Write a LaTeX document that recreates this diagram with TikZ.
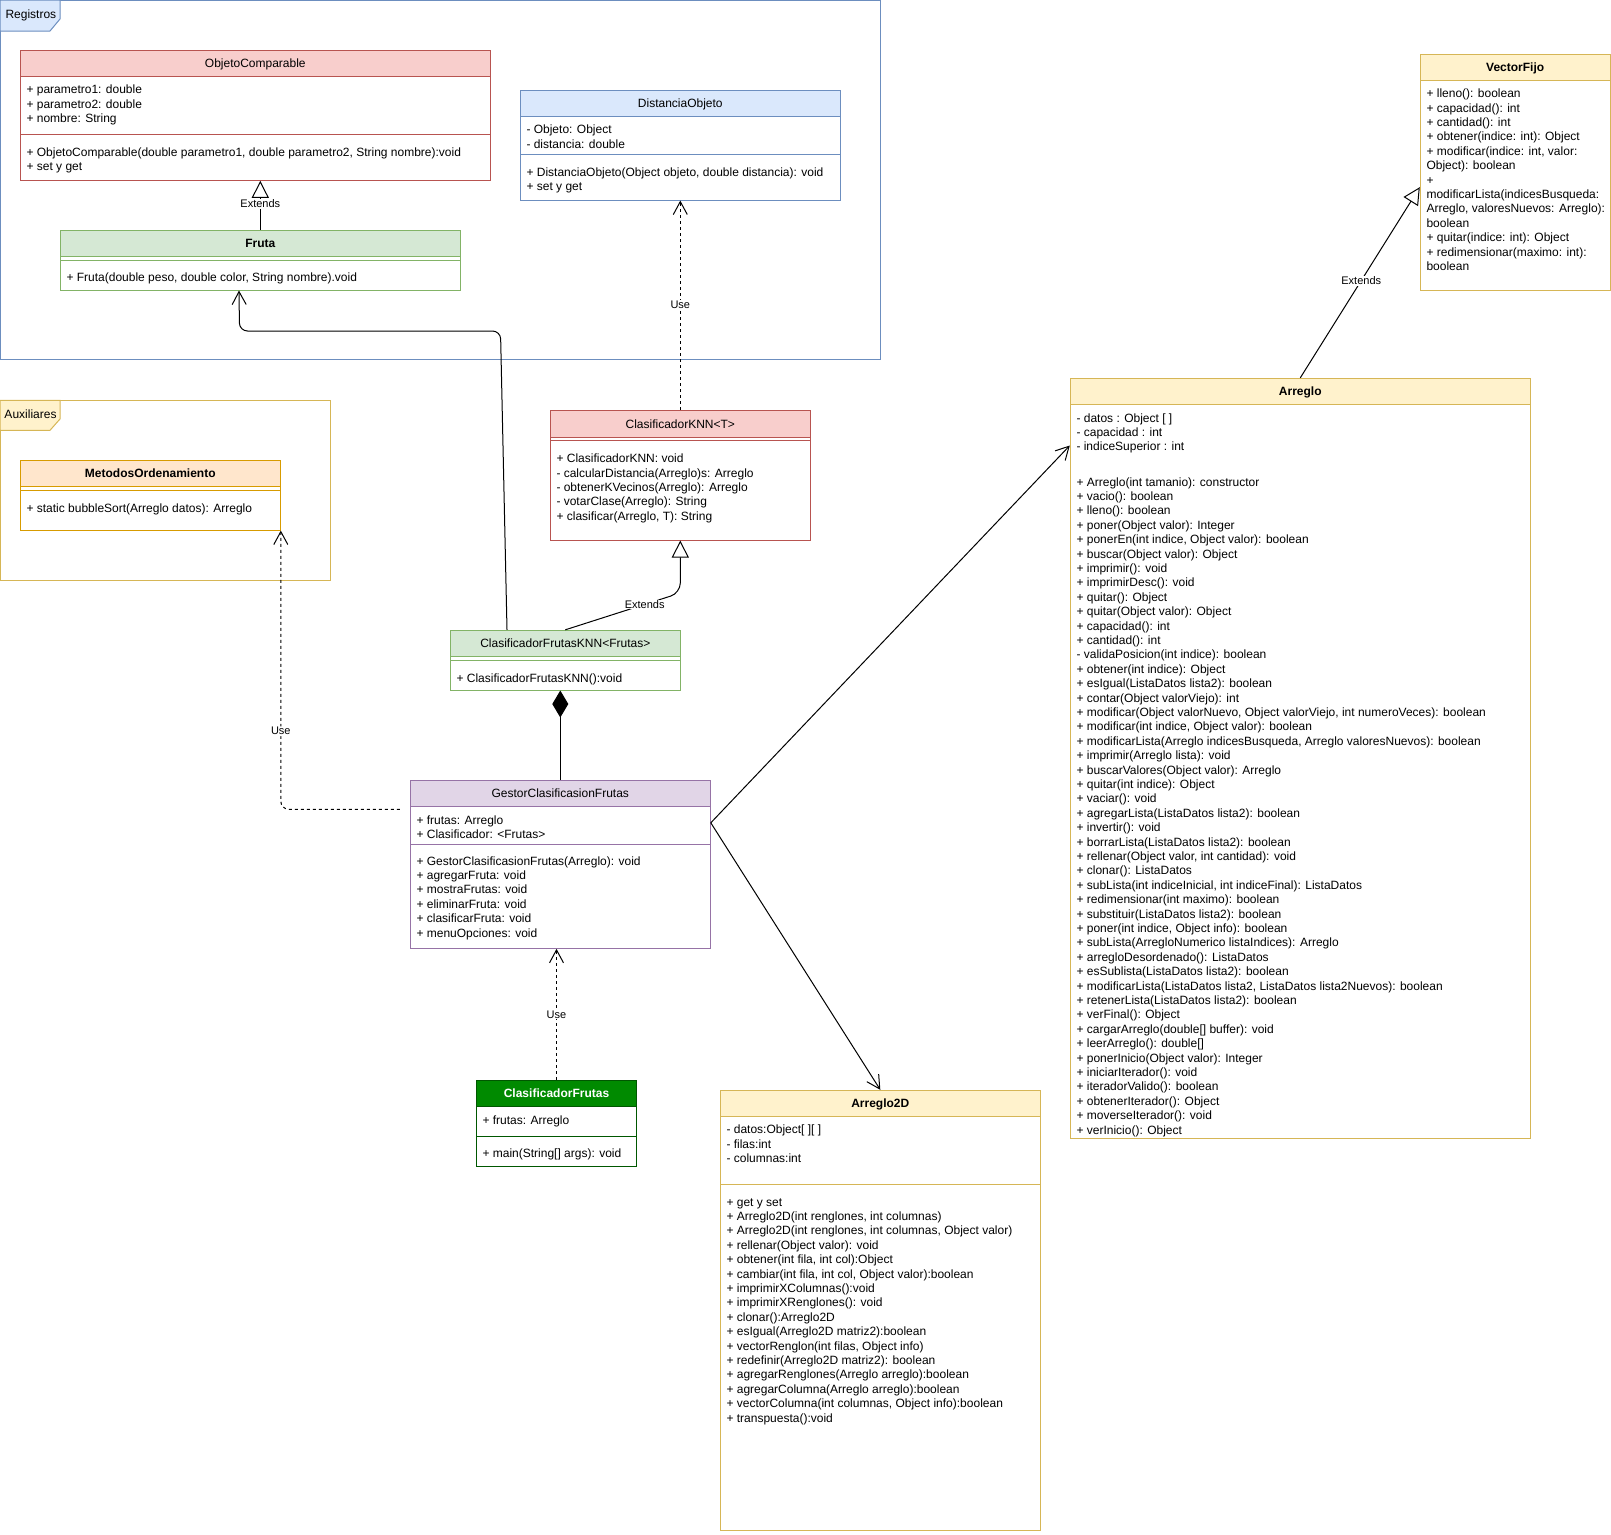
\documentclass[tikz,border=0pt]{standalone}
\usepackage{fontspec}
\setmainfont{Liberation Sans}
\usetikzlibrary{arrows.meta}
\definecolor{blueFill}{HTML}{DAE8FC}
\definecolor{blueLine}{HTML}{6C8EBF}
\definecolor{redFill}{HTML}{F8CECC}
\definecolor{redLine}{HTML}{B85450}
\definecolor{greenFill}{HTML}{D5E8D4}
\definecolor{greenLine}{HTML}{82B366}
\definecolor{purpleFill}{HTML}{E1D5E7}
\definecolor{purpleLine}{HTML}{9673A6}
\definecolor{yellowFill}{HTML}{FFF2CC}
\definecolor{yellowLine}{HTML}{D6B656}
\definecolor{orangeFill}{HTML}{FFE6CC}
\definecolor{orangeLine}{HTML}{D79B00}
\definecolor{darkGreenFill}{HTML}{008A00}
\definecolor{darkGreenLine}{HTML}{005700}
\begin{document}
\begin{tikzpicture}[x=1pt,y=-1pt,line width=1pt,
    every node/.style={font=\fontsize{12}{14.4}\selectfont,inner sep=0pt},
    member/.style={anchor=base west},
    title/.style={anchor=base},
    boldtitle/.style={anchor=base,font=\fontsize{12}{14.4}\selectfont\bfseries},
    lbl/.style={font=\fontsize{11}{13}\selectfont,fill=white,inner sep=1pt},
    extends/.style={-{Triangle[open,length=17pt,width=17pt]}},
    usedep/.style={dash pattern=on 3pt off 3pt,-{Straight Barb[length=13pt,width=14pt]}},
    assoc/.style={-{Straight Barb[length=13pt,width=14pt]}},
    compose/.style={-{Diamond[length=27pt,width=16pt]}}]
    \useasboundingbox (0,0) rectangle (1611,1534);

    % paquetes
    \draw[blueLine] (0,0) rectangle (880.5,359.6);
    \draw[blueLine,fill=blueFill] (0,0) -- (60,0) -- (60,19) -- (50,31) -- (0,31) -- cycle;
    \node[member] at (5,18.7) {Registros};
    \draw[yellowLine] (0,400.3) rectangle (330,580);
    \draw[yellowLine,fill=yellowFill] (0,400.3) -- (60,400.3) -- (60,419) -- (50,430.3) -- (0,430.3) -- cycle;
    \node[member] at (4,418.3) {Auxiliares};

    % ObjetoComparable
    \fill[redFill] (20.3,50.3) rectangle (490.3,76.3);
    \node[draw=redLine,minimum width=470pt,minimum height=130pt] (objComp) at (255.3,115.3) {};
    \draw[redLine] (20.3,76.3) -- (490.3,76.3) (20.3,134.3) -- (490.3,134.3);
    \node[title] at (255.3,67.6) {ObjetoComparable};
    \foreach \t [count=\i from 0] in {{+ parametro1: double},{+ parametro2: double},{+ nombre: String}}
        \node[member] at (26,{93.6+14.4*\i}) {\t};
    \foreach \t [count=\i from 0] in {{+ ObjetoComparable(double parametro1, double parametro2, String nombre):void},{+ set y get}}
        \node[member] at (26,{156+14.4*\i}) {\t};

    % Fruta
    \fill[greenFill] (60.3,230.3) rectangle (460.3,256.3);
    \node[draw=greenLine,minimum width=400pt,minimum height=59.7pt] (fruta) at (260.3,260.15) {};
    \draw[greenLine] (60.3,256.3) -- (460.3,256.3) (60.3,260.3) -- (460.3,260.3);
    \node[boldtitle] at (260.3,247.6) {Fruta};
    \node[member] at (66,281.6) {+ Fruta(double peso, double color, String nombre).void};

    % DistanciaObjeto
    \fill[blueFill] (520.3,90.3) rectangle (840.3,116);
    \node[draw=blueLine,minimum width=320pt,minimum height=109.7pt] (distObj) at (680.3,145.15) {};
    \draw[blueLine] (520.3,116) -- (840.3,116) (520.3,154.7) -- (840.3,154.7);
    \node[title] at (680.3,107.5) {DistanciaObjeto};
    \foreach \t [count=\i from 0] in {{- Objeto: Object},{- distancia: double}}
        \node[member] at (526,{133.6+14.4*\i}) {\t};
    \foreach \t [count=\i from 0] in {{+ DistanciaObjeto(Object objeto, double distancia): void},{+ set y get}}
        \node[member] at (526,{176.3+14.4*\i}) {\t};

    % ClasificadorKNN
    \fill[redFill] (550.3,410.3) rectangle (810.3,437.3);
    \node[draw=redLine,minimum width=260pt,minimum height=129.7pt] (clasKNN) at (680.3,475.15) {};
    \draw[redLine] (550.3,437.3) -- (810.3,437.3) (550.3,440.3) -- (810.3,440.3);
    \node[title] at (680.3,428.1) {ClasificadorKNN<T>};
    \foreach \t [count=\i from 0] in {{+ ClasificadorKNN: void},{- calcularDistancia(Arreglo)s: Arreglo},
        {- obtenerKVecinos(Arreglo): Arreglo},{- votarClase(Arreglo): String},{+ clasificar(Arreglo, T): String}}
        \node[member] at (556,{462.6+14.4*\i}) {\t};

    % ClasificadorFrutasKNN
    \fill[greenFill] (450.3,630.3) rectangle (680.3,656.7);
    \node[draw=greenLine,minimum width=230pt,minimum height=59.7pt] (clasFrutasKNN) at (565.3,660.15) {};
    \draw[greenLine] (450.3,656.7) -- (680.3,656.7) (450.3,660.7) -- (680.3,660.7);
    \node[title] at (565.3,647.8) {ClasificadorFrutasKNN<Frutas>};
    \node[member] at (456,682.6) {+ ClasificadorFrutasKNN():void};

    % GestorClasificasionFrutas
    \fill[purpleFill] (410.3,780.3) rectangle (710.3,806.3);
    \node[draw=purpleLine,minimum width=300pt,minimum height=168pt] (gestor) at (560.3,864.3) {};
    \draw[purpleLine] (410.3,806.3) -- (710.3,806.3) (410.3,844.3) -- (710.3,844.3);
    \node[title] at (560.3,797.6) {GestorClasificasionFrutas};
    \foreach \t [count=\i from 0] in {{+ frutas: Arreglo},{+ Clasificador: <Frutas>}}
        \node[member] at (416,{824.3+14.4*\i}) {\t};
    \foreach \t [count=\i from 0] in {{+ GestorClasificasionFrutas(Arreglo): void},{+ agregarFruta: void},
        {+ mostraFrutas: void},{+ eliminarFruta: void},{+ clasificarFruta: void},{+ menuOpciones: void}}
        \node[member] at (416,{865+14.4*\i}) {\t};

    % MetodosOrdenamiento
    \fill[orangeFill] (20.3,460.3) rectangle (280.3,486.7);
    \node[draw=orangeLine,minimum width=260pt,minimum height=69.7pt] (metodos) at (150.3,495.15) {};
    \draw[orangeLine] (20.3,486.7) -- (280.3,486.7) (20.3,490.3) -- (280.3,490.3);
    \node[boldtitle] at (150.3,477.8) {MetodosOrdenamiento};
    \node[member] at (26,512.3) {+ static bubbleSort(Arreglo datos): Arreglo};

    % ClasificadorFrutas
    \fill[darkGreenFill] (476.3,1080.3) rectangle (636.7,1106.7);
    \node[draw=darkGreenLine,minimum width=160.4pt,minimum height=86.4pt] (clasFrutas) at (556.5,1123.5) {};
    \draw[darkGreenLine] (476.3,1106.7) -- (636.7,1106.7) (476.3,1136.7) -- (636.7,1136.7);
    \node[boldtitle,text=white] at (556.5,1097.8) {ClasificadorFrutas};
    \node[member] at (482,1124.3) {+ frutas: Arreglo};
    \node[member] at (482,1157.6) {+ main(String[] args): void};

    % VectorFijo
    \fill[yellowFill] (1420.3,54.3) rectangle (1610,80.3);
    \node[draw=yellowLine,minimum width=189.7pt,minimum height=235.7pt] (vectorFijo) at (1515.15,172.15) {};
    \draw[yellowLine] (1420.3,80.3) -- (1610,80.3);
    \node[boldtitle] at (1515.15,71.6) {VectorFijo};
    \foreach \t [count=\i from 0] in {{+ lleno(): boolean},{+ capacidad(): int},{+ cantidad(): int},
        {+ obtener(indice: int): Object},{+ modificar(indice: int, valor:},{Object): boolean},{+},
        {modificarLista(indicesBusqueda:},{Arreglo, valoresNuevos: Arreglo):},{boolean},
        {+ quitar(indice: int): Object},{+ redimensionar(maximo: int):},{boolean}}
        \node[member] at (1426,{97.6+14.4*\i}) {\t};

    % Arreglo
    \fill[yellowFill] (1070.3,378.3) rectangle (1530.3,404.3);
    \node[draw=yellowLine,minimum width=460pt,minimum height=760pt] (arreglo) at (1300.3,758.3) {};
    \draw[yellowLine] (1070.3,404.3) -- (1530.3,404.3);
    \node[boldtitle] at (1300.3,395.6) {Arreglo};
    \foreach \t [count=\i from 0] in {{- datos : Object [ ]},{- capacidad : int},{- indiceSuperior : int}}
        \node[member] at (1076,{422+14.4*\i}) {\t};
    \foreach \t [count=\i from 0] in {{+ Arreglo(int tamanio): constructor},{+ vacio(): boolean},{+ lleno(): boolean},
        {+ poner(Object valor): Integer},{+ ponerEn(int indice, Object valor): boolean},{+ buscar(Object valor): Object},
        {+ imprimir(): void},{+ imprimirDesc(): void},{+ quitar(): Object},{+ quitar(Object valor): Object},
        {+ capacidad(): int},{+ cantidad(): int},{- validaPosicion(int indice): boolean},{+ obtener(int indice): Object},
        {+ esIgual(ListaDatos lista2): boolean},{+ contar(Object valorViejo): int},
        {+ modificar(Object valorNuevo, Object valorViejo, int numeroVeces): boolean},
        {+ modificar(int indice, Object valor): boolean},
        {+ modificarLista(Arreglo indicesBusqueda, Arreglo valoresNuevos): boolean},
        {+ imprimir(Arreglo lista): void},{+ buscarValores(Object valor): Arreglo},{+ quitar(int indice): Object},
        {+ vaciar(): void},{+ agregarLista(ListaDatos lista2): boolean},{+ invertir(): void},
        {+ borrarLista(ListaDatos lista2): boolean},{+ rellenar(Object valor, int cantidad): void},
        {+ clonar(): ListaDatos},{+ subLista(int indiceInicial, int indiceFinal): ListaDatos},
        {+ redimensionar(int maximo): boolean},{+ substituir(ListaDatos lista2): boolean},
        {+ poner(int indice, Object info): boolean},{+ subLista(ArregloNumerico listaIndices): Arreglo},
        {+ arregloDesordenado(): ListaDatos},{+ esSublista(ListaDatos lista2): boolean},
        {+ modificarLista(ListaDatos lista2, ListaDatos lista2Nuevos): boolean},
        {+ retenerLista(ListaDatos lista2): boolean},{+ verFinal(): Object},
        {+ cargarArreglo(double[] buffer): void},{+ leerArreglo(): double[]},{+ ponerInicio(Object valor): Integer},
        {+ iniciarIterador(): void},{+ iteradorValido(): boolean},{+ obtenerIterador(): Object},
        {+ moverseIterador(): void},{+ verInicio(): Object}}
        \node[member] at (1076,{486+14.4*\i}) {\t};

    % Arreglo2D
    \fill[yellowFill] (720.3,1090.3) rectangle (1040.3,1116.7);
    \node[draw=yellowLine,minimum width=320pt,minimum height=439.7pt] (arreglo2D) at (880.3,1310.15) {};
    \draw[yellowLine] (720.3,1116.7) -- (1040.3,1116.7) (720.3,1184.3) -- (1040.3,1184.3);
    \node[boldtitle] at (880.3,1107.8) {Arreglo2D};
    \foreach \t [count=\i from 0] in {{- datos:Object[ ][ ]},{- filas:int},{- columnas:int}}
        \node[member] at (726,{1133.6+14.4*\i}) {\t};
    \foreach \t [count=\i from 0] in {{+ get y set},{+ Arreglo2D(int renglones, int columnas)},
        {+ Arreglo2D(int renglones, int columnas, Object valor)},{+ rellenar(Object valor): void},
        {+ obtener(int fila, int col):Object},{+ cambiar(int fila, int col, Object valor):boolean},
        {+ imprimirXColumnas():void},{+ imprimirXRenglones(): void},{+ clonar():Arreglo2D},
        {+ esIgual(Arreglo2D matriz2):boolean},{+ vectorRenglon(int filas, Object info)},
        {+ redefinir(Arreglo2D matriz2): boolean},{+ agregarRenglones(Arreglo arreglo):boolean},
        {+ agregarColumna(Arreglo arreglo):boolean},{+ vectorColumna(int columnas, Object info):boolean},
        {+ transpuesta():void}}
        \node[member] at (726,{1206+14.4*\i}) {\t};

    % relaciones
    \draw[extends] (fruta.north) -- (fruta.north |- objComp.south) node[lbl,pos=0.53] {Extends};
    \draw[extends,rounded corners=10pt] (clasFrutasKNN.north) -- node[lbl,pos=0.69] {Extends} (clasKNN.south |- 0,593) -- (clasKNN.south);
    \draw[extends] (arreglo.north) -- node[lbl,pos=0.51] {Extends} ([yshift=-15pt]vectorFijo.west);
    \draw[usedep] (clasKNN.north) -- node[lbl] {Use} (distObj.south);
    \draw[usedep] (clasFrutas.north) -- node[lbl] {Use} (clasFrutas.north |- gestor.south);
    \draw[usedep,rounded corners=8pt] ([shift={(-10,29.5)}]gestor.north west) -| node[lbl,pos=0.64] {Use} (metodos.south east);
    \draw[assoc,rounded corners=8pt] ([xshift=57.2pt]clasFrutasKNN.north west) -- (500.5,331) -- (239.5,331) -- ([xshift=179.2pt]fruta.south west);
    \draw[assoc] ([yshift=-43pt]gestor.north east) -- ([yshift=-67.7pt]arreglo.north west);
    \draw[assoc] ([yshift=-43pt]gestor.north east) -- (arreglo2D.north);
    \draw[compose] (gestor.north) -- (gestor.north |- clasFrutasKNN.south);
\end{tikzpicture}
\end{document}
